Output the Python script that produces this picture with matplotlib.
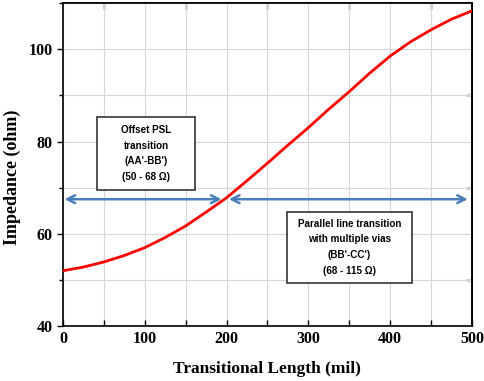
import numpy as np
import matplotlib
matplotlib.use("Agg")
import matplotlib.pyplot as plt
from matplotlib.ticker import MultipleLocator, FixedLocator, NullFormatter
from matplotlib.patches import Rectangle

# impedance along the transition
length_mil = [0, 25, 50, 75, 100, 125, 150, 175, 200, 225, 250,
              275, 300, 325, 350, 375, 400, 425, 450, 475, 500]
impedance = [52.0, 52.8, 53.9, 55.3, 57.0, 59.2, 61.7, 64.7, 67.8, 71.5, 75.3,
             79.2, 83.0, 87.0, 90.8, 94.8, 98.5, 101.6, 104.2, 106.5, 108.3]

arrow_y = 67.5
left_span = (2, 194)
right_span = (203, 495)

box1_text = "Offset PSL\ntransition\n(AA'-BB')\n(50 - 68 \u03a9)"
box2_text = "Parallel line transition\nwith multiple vias\n(BB'-CC')\n(68 - 115 \u03a9)"
# box extents in data units: (x0, x1, y0, y1)
box1 = (41.6, 161.4, 69.5, 85.3)
box2 = (273.5, 427.0, 49.4, 64.8)

serif = "Liberation Serif"
sans = ["Liberation Sans", "DejaVu Sans"]

fig = plt.figure(figsize=(4.84, 3.81), dpi=100)
ax = fig.add_axes([0.130, 0.144, 0.845, 0.848])

ax.set_xlim(0, 500)
ax.set_ylim(40, 110)
ax.xaxis.set_major_locator(MultipleLocator(100))
ax.xaxis.set_minor_locator(MultipleLocator(50))
ax.yaxis.set_major_locator(MultipleLocator(20))
ax.yaxis.set_minor_locator(MultipleLocator(10))

ax.grid(True, which="both", color="#d6d6d6", linewidth=0.8)
ax.set_axisbelow(True)

ax.plot(length_mil, impedance, color="red", linewidth=2, zorder=3)

arrow_color = "#4a7ebb"
for x0, x1 in [left_span, right_span]:
    ax.annotate("", xy=(x1, arrow_y), xytext=(x0, arrow_y),
                arrowprops=dict(arrowstyle="<->", color=arrow_color,
                                lw=1.8, mutation_scale=14,
                                shrinkA=0, shrinkB=0), zorder=4)

# text boxes
for (x0, x1, y0, y1), txt in [(box1, box1_text), (box2, box2_text)]:
    ax.add_patch(Rectangle((x0, y0), x1 - x0, y1 - y0, facecolor="white",
                           edgecolor="#333333", linewidth=1.2, zorder=5))
    ax.text((x0 + x1) / 2, (y0 + y1) / 2, txt, ha="center", va="center",
            fontsize=7.1, family=sans, fontweight="bold", linespacing=1.7,
            zorder=6)

for s in ax.spines.values():
    s.set_linewidth(1.2)
    s.set_color("black")

# left ticks point out, bottom ticks point in
ax.tick_params(axis="y", which="both", left=True, right=False,
               direction="out", length=4, width=1)
ax.tick_params(axis="y", which="minor", length=3)
ax.tick_params(axis="x", which="both", bottom=True, top=False,
               direction="in", length=4, width=1)

# top and right only carry inward ticks at the odd positions
top = ax.secondary_xaxis("top")
top.xaxis.set_major_locator(FixedLocator([50, 150, 250, 350, 450]))
top.xaxis.set_major_formatter(NullFormatter())
top.tick_params(direction="in", length=4, width=1)
top.spines["top"].set_linewidth(1.2)
right = ax.secondary_yaxis("right")
right.yaxis.set_major_locator(FixedLocator([50, 70, 90]))
right.yaxis.set_major_formatter(NullFormatter())
right.tick_params(direction="in", length=4, width=1)
right.spines["right"].set_linewidth(1.2)

for lab in ax.get_xticklabels() + ax.get_yticklabels():
    lab.set_family(serif)
    lab.set_fontweight("bold")
    lab.set_fontsize(11.5)

ax.set_xlabel("Transitional Length (mil)", family=serif, fontweight="bold",
              fontsize=12.5, labelpad=10)
ax.set_ylabel("Impedance (ohm)", family=serif, fontweight="bold",
              fontsize=13)
ax.yaxis.set_label_coords(-0.103, 0.46)

fig.savefig("out.png", dpi=100)
